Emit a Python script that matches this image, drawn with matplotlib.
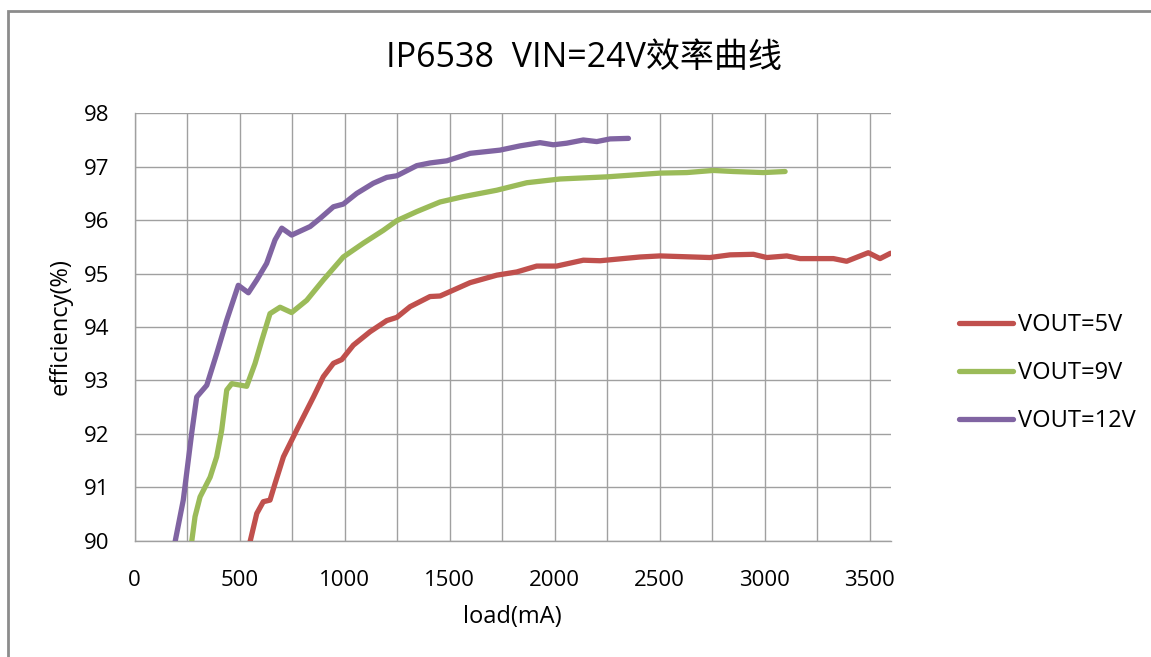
import matplotlib
matplotlib.use("Agg")
import matplotlib.pyplot as plt
from matplotlib.patches import Rectangle

# ---- data ----
load_5v = [550, 582, 613, 645, 669, 709, 772, 852, 899, 947, 987, 1042, 1121, 1201, 1249,
           1312, 1407, 1455, 1598, 1725, 1820, 1915, 2010, 2137, 2217, 2407, 2502, 2740,
           2836, 2947, 3011, 3106, 3169, 3328, 3391, 3494, 3550, 3600]
eff_5v = [89.98, 90.51, 90.73, 90.76, 91.07, 91.57, 92.07, 92.69, 93.07, 93.32, 93.39, 93.66,
          93.91, 94.12, 94.18, 94.38, 94.57, 94.58, 94.83, 94.97, 95.03, 95.14, 95.14, 95.25,
          95.24, 95.31, 95.33, 95.30, 95.35, 95.36, 95.30, 95.33, 95.28, 95.28, 95.23, 95.39,
          95.28, 95.38]

load_9v = [272, 288, 312, 360, 391, 415, 439, 463, 534, 574, 606, 645, 693, 748, 820, 899,
           994, 1090, 1185, 1249, 1344, 1455, 1566, 1725, 1868, 2026, 2249, 2502, 2630, 2756,
           2851, 2994, 3098]
eff_9v = [89.98, 90.45, 90.82, 91.19, 91.57, 92.07, 92.82, 92.94, 92.89, 93.32, 93.75, 94.25,
          94.37, 94.27, 94.50, 94.88, 95.31, 95.57, 95.81, 95.99, 96.16, 96.34, 96.44, 96.56,
          96.70, 96.77, 96.81, 96.88, 96.89, 96.93, 96.91, 96.89, 96.91]

load_12v = [193, 232, 272, 296, 344, 391, 439, 494, 542, 582, 629, 669, 701, 748, 836, 883,
            947, 994, 1058, 1137, 1201, 1249, 1344, 1407, 1487, 1598, 1740, 1836, 1931, 1994,
            2058, 2137, 2201, 2264, 2352]
eff_12v = [89.98, 90.76, 92.01, 92.69, 92.91, 93.50, 94.13, 94.78, 94.64, 94.88, 95.19, 95.63,
           95.85, 95.72, 95.88, 96.03, 96.25, 96.30, 96.50, 96.69, 96.80, 96.83, 97.02, 97.07,
           97.11, 97.25, 97.31, 97.39, 97.45, 97.41, 97.44, 97.50, 97.47, 97.52, 97.53]

series_labels = ["VOUT=5V", "VOUT=9V", "VOUT=12V"]
series_colors = ["#C0504D", "#9BBB59", "#8064A2"]
x_ticks = [0, 500, 1000, 1500, 2000, 2500, 3000, 3500]
y_ticks = [90, 91, 92, 93, 94, 95, 96, 97, 98]
title = "IP6538  VIN=24V效率曲线"
x_label = "load(mA)"
y_label = "efficiency(%)"

plt.rcParams['font.family'] = ['Open Sans', 'Noto Sans CJK SC', 'DejaVu Sans']

fig = plt.figure(figsize=(11.51, 6.57), dpi=100)
ax = fig.add_axes([0.1169, 0.177, 0.7737 - 0.1169, 0.8276 - 0.177])

grid_c = "#A0A0A0"
for xs, ys, lab, c in zip([load_5v, load_9v, load_12v], [eff_5v, eff_9v, eff_12v],
                          series_labels, series_colors):
    ax.plot(xs, ys, color=c, lw=3.8, label=lab, solid_joinstyle='round',
            solid_capstyle='round', clip_on=True, zorder=3)

ax.set_xlim(0, 3600)
ax.set_ylim(90, 98)
ax.set_xticks(x_ticks)
ax.set_xticks(range(0, 3600, 250), minor=True)
ax.set_yticks(y_ticks)
ax.grid(True, which='both', color=grid_c, lw=1.0, zorder=0)
ax.tick_params(which='both', length=0, labelsize=16)
ax.tick_params(axis='y', pad=18)
ax.tick_params(axis='x', pad=21)
for s in ['top', 'right']:
    ax.spines[s].set_visible(False)
for s in ['left', 'bottom']:
    ax.spines[s].set_color(grid_c)
    ax.spines[s].set_linewidth(1.0)

ax.set_xlabel(x_label, fontsize=17, labelpad=10)
ax.set_ylabel(y_label, fontsize=17, labelpad=8)
fig.text(0.507, 1 - 58 / 657, title, fontsize=24.5, ha='center', va='center')

leg = ax.legend(loc='center left', bbox_to_anchor=(1.062, 0.392), frameon=False,
                fontsize=17, handlelength=2.3, handletextpad=0.2, labelspacing=1.02)

fig.patches.append(Rectangle((8 / 1151, -0.1), 1.2, 1 - 11 / 657 + 0.1,
                             transform=fig.transFigure, fill=False,
                             edgecolor="#8C8C8C", lw=2.0))

fig.savefig("out.png", dpi=100)
